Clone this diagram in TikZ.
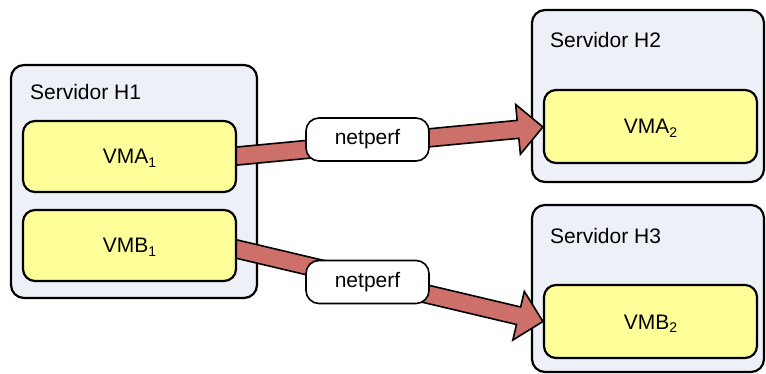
\documentclass[tikz,border=0pt]{standalone}
\usepackage{fontspec}
\setmainfont{Liberation Sans}
\usetikzlibrary{calc}

\definecolor{srvfill}{RGB}{237,240,246}
\definecolor{vmfill}{RGB}{255,255,153}
\definecolor{linkfill}{RGB}{205,112,106}

\pgfdeclarelayer{bg}
\pgfdeclarelayer{mid}
\pgfsetlayers{bg,mid,main}

\tikzset{
  server/.style={draw=black, line width=2.2pt, fill=srvfill, rounded corners=13pt, inner sep=0pt},
  vm/.style={draw=black, line width=2.2pt, fill=vmfill, rounded corners=12pt,
    minimum width=213pt, inner sep=0pt, font=\fontsize{21}{25}\selectfont,
    text height=15pt, text depth=0pt},
  srvlabel/.style={anchor=base west, inner sep=0pt, font=\fontsize{21}{25}\selectfont},
  tag/.style={draw=black, line width=1.6pt, fill=white, rounded corners=13pt,
    minimum width=123pt, minimum height=43pt, inner sep=0pt,
    font=\fontsize{21}{25}\selectfont, text height=11pt, text depth=0pt},
  link/.style={draw=black, line width=1.6pt, fill=linkfill, line join=miter},
}

% subscript index of a virtual machine
\newcommand{\vmidx}[1]{\raisebox{-3.5pt}{\fontsize{14}{14}\selectfont #1}}

% broad block arrow from #1 to the tip #2
\newcommand{\fatlink}[2]{%
  \coordinate (hb) at ($(#2)!25pt!(#1)$);
  \path[link] ($(#1)!9pt!90:(#2)$) -- ($(hb)!9pt!-90:(#1)$)
    -- ($(hb)!25pt!-90:(#1)$) -- (#2) -- ($(hb)!25pt!90:(#1)$)
    -- ($(hb)!9pt!90:(#1)$) -- ($(#1)!9pt!-90:(#2)$) -- cycle;}

\begin{document}
\begin{tikzpicture}[x=1pt, y=-1pt]
\useasboundingbox (0,0) rectangle (766,374);

% hosts
\begin{pgfonlayer}{bg}
  \node[server, minimum width=246pt, minimum height=233pt] (h1) at (134,181.5) {};
  \node[server, minimum width=232pt, minimum height=172pt] (h2) at (648,96) {};
  \node[server, minimum width=232pt, minimum height=167pt] (h3) at (648,288.5) {};
\end{pgfonlayer}

\node[srvlabel] (l1) at ($(h1.north west)+(20,36)$) {Servidor H1};
\node[srvlabel] (l2) at ($(h2.north west)+(19,39)$) {Servidor H2};
\node[srvlabel] (l3) at ($(h3.north west)+(19,39.5)$) {Servidor H3};

% virtual machines
\node[vm, minimum height=71pt] (vma1) at (129.5,156.5) {VMA\vmidx{1}};
\node[vm, minimum height=71pt] (vmb1) at (129.5,245.5) {VMB\vmidx{1}};
\node[vm, minimum height=73pt] (vma2) at (650.5,126.5) {VMA\vmidx{2}};
\node[vm, minimum height=73pt] (vmb2) at (650.5,321.5) {VMB\vmidx{2}};

% traffic between the machines
\coordinate (a1s) at ($(vma1.east)+(-5,0)$);
\coordinate (a1t) at ($(vma2.west)+(0,0.5)$);
\coordinate (a2s) at ($(vmb1.east)+(-5,2.5)$);
\coordinate (a2t) at (vmb2.west);
\begin{pgfonlayer}{mid}
  \fatlink{a1s}{a1t}
  \fatlink{a2s}{a2t}
\end{pgfonlayer}

\node[tag] (n1) at (367.5,139.5) {netperf};
\node[tag] (n2) at (367.5,282) {netperf};
\end{tikzpicture}
\end{document}
